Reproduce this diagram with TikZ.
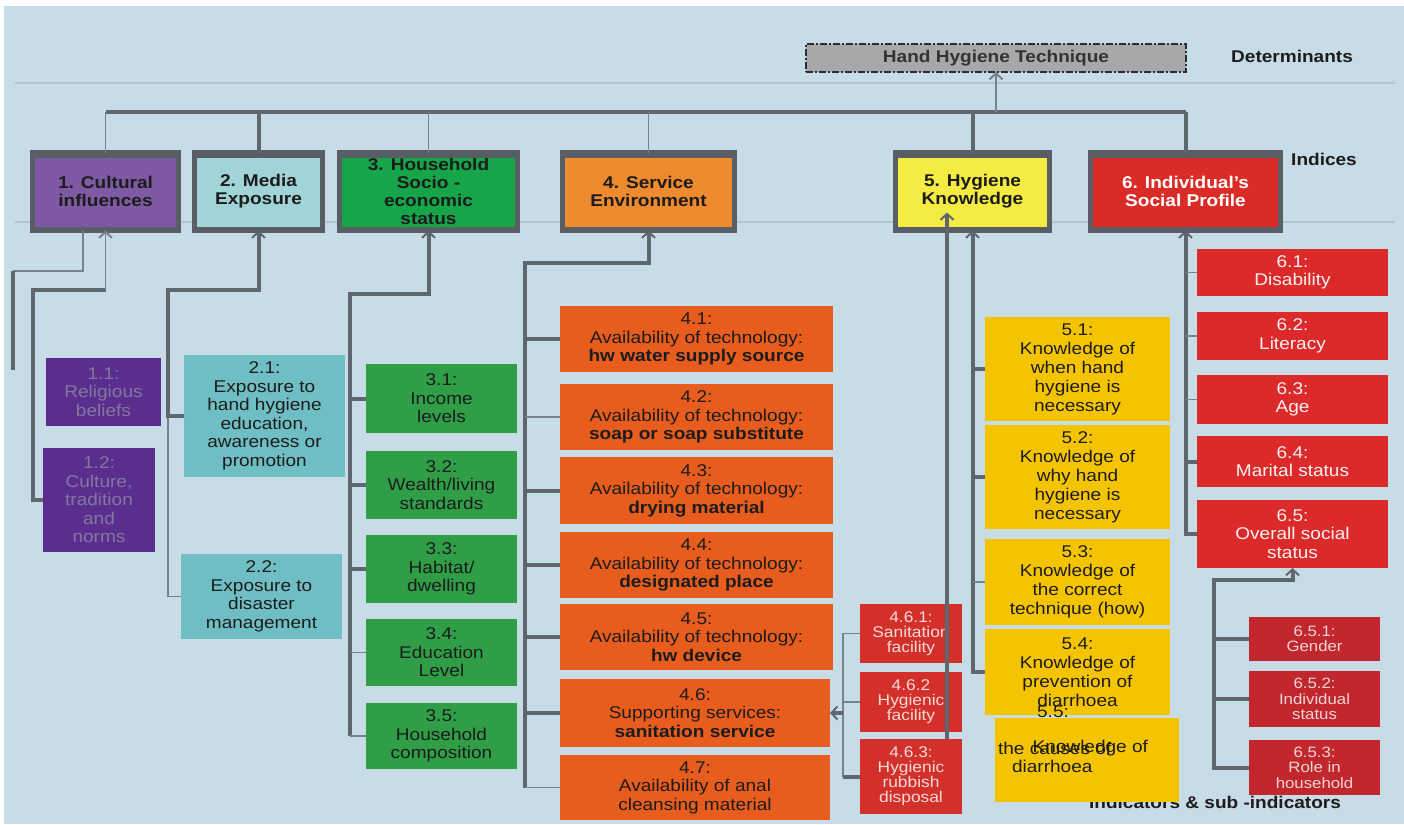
\documentclass[tikz,border=0pt]{standalone}
\usepackage{fontspec}
\setmainfont{Liberation Sans}[FakeStretch=1.12]
\usetikzlibrary{arrows.meta}
\definecolor{bgc}{HTML}{C8DCE7}
\definecolor{faintc}{HTML}{B2C4CF}
\definecolor{connc}{HTML}{5E676E}
\definecolor{connl}{HTML}{77838C}
\definecolor{bordc}{HTML}{585E63}
\definecolor{txtd}{HTML}{1C1C1C}
\definecolor{hhtc}{HTML}{A8A8AB}
\definecolor{hhtb}{HTML}{2A2E33}
\definecolor{cA}{HTML}{7E59A4}
\definecolor{cB}{HTML}{A0D4D6}
\definecolor{cC}{HTML}{17A54A}
\definecolor{cD}{HTML}{EF8A2E}
\definecolor{cE}{HTML}{F4EC42}
\definecolor{cF}{HTML}{DB2B26}
\definecolor{sA}{HTML}{5A2E8E}
\definecolor{sAt}{HTML}{84779F}
\definecolor{sB}{HTML}{6EBEC3}
\definecolor{sC}{HTML}{2F9E47}
\definecolor{sD}{HTML}{E85D1E}
\definecolor{sDD}{HTML}{D3302B}
\definecolor{sDDt}{HTML}{F5DAD5}
\definecolor{sE}{HTML}{F5C400}
\definecolor{sF}{HTML}{DC2A2A}
\definecolor{sFF}{HTML}{C1272D}
\definecolor{sFt}{HTML}{FBF1F1}
\definecolor{sFFt}{HTML}{EED6D6}
\newcommand\mybox[7]{\node[#6, minimum width={(#3)-(#2)}, minimum height={(#5)-(#4)}] (#1) at ({((#2)+(#3))/2},{((#4)+(#5))/2}) {#7};}
\begin{document}
\begin{tikzpicture}[x=1pt,y=-1pt,
  conn/.style={draw=connc, line width=4pt},
  connthin/.style={draw=connl, line width=1.2pt},
  arrT/.style={-{Straight Barb[length=6pt,width=13pt,line width=2pt]}},
  faint/.style={draw=faintc, line width=1.3pt},
  idx/.style={draw=bordc, line width=5pt, inner sep=0pt, outer sep=0pt, align=center, text=txtd, font=\bfseries\fontsize{17}{18}\selectfont},
  sub/.style={inner sep=0pt, outer sep=0pt, align=center, text=txtd, font=\fontsize{17}{18.5}\selectfont},
  subsm/.style={inner sep=0pt, outer sep=0pt, align=center, font=\fontsize{15.5}{15}\selectfont},
  subxs/.style={inner sep=0pt, outer sep=0pt, align=center, font=\fontsize{15}{15.5}\selectfont},
  lab/.style={inner sep=0pt, text=txtd, font=\bfseries\fontsize{17}{18}\selectfont},
  hht/.style={fill=hhtc, draw=hhtb, line width=2.5pt, dash pattern=on 7pt off 2pt on 2pt off 2pt, inner sep=0pt, outer sep=0pt, text=txtd!90, font=\bfseries\fontsize{17}{18}\selectfont}]
\useasboundingbox (0,0) rectangle (1404,824);
\fill[white] (0,0) rectangle (1404,824);
\fill[bgc] (4,6) rectangle (1404,824);
\coordinate (fa1) at (15,83); \coordinate (fa2) at (1395,83);
\coordinate (fb1) at (15,222); \coordinate (fb2) at (1395,222);
\draw[faint] (fa1) -- (fa2);
\draw[faint] (fb1) -- (fb2);
% top
\mybox{hht}{806}{1186}{44}{72}{hht}{Hand Hygiene Technique}
\node[lab] (det) at (1292,56) {Determinants};
\node[lab] (ind) at (1324,159) {Indices};
% index boxes
\mybox{b1}{32.5}{178.5}{152.5}{230.5}{idx,fill=cA}{1. Cultural\\influences}
\mybox{b2}{194.5}{322.5}{152.5}{230.5}{idx,fill=cB}{2. Media\\Exposure}
\mybox{b3}{339.5}{517.5}{152.5}{230.5}{idx,fill=cC}{3. Household\\Socio -\\economic\\status}
\mybox{b4}{562.5}{734.5}{152.5}{230.5}{idx,fill=cD}{4. Service\\Environment}
\mybox{b5}{895.5}{1049.5}{152.5}{230.5}{idx,fill=cE}{5. Hygiene\\Knowledge}
\mybox{b6}{1090.5}{1280.5}{152.5}{230.5}{idx,fill=cF,text=white}{6. Individual's\\Social Profile}
\foreach \n in {b1,b2,b3,b4,b5,b6}{
  \draw[bordc, line width=4pt] ([yshift=-3pt]\n.north west) -- ([yshift=-3pt]\n.north east);
  \draw[bordc, line width=3pt] ([yshift=2.5pt]\n.south west) -- ([yshift=2.5pt]\n.south east);
}
% sub boxes
\mybox{s11}{46}{161}{358}{426}{sub,fill=sA,text=sAt}{1.1:\\Religious\\beliefs}
\mybox{s12}{43}{155}{448}{552}{sub,fill=sA,text=sAt}{1.2:\\Culture,\\tradition\\and\\norms}
\mybox{s21}{184}{345}{355}{477}{sub,fill=sB}{2.1:\\Exposure to\\hand hygiene\\education,\\awareness or\\promotion}
\mybox{s22}{181}{342}{554}{639}{sub,fill=sB}{2.2:\\Exposure to\\disaster\\management}
\mybox{s31}{366}{517}{364}{433}{sub,fill=sC}{3.1:\\Income\\levels}
\mybox{s32}{366}{517}{451}{519}{sub,fill=sC}{3.2:\\Wealth/living\\standards}
\mybox{s33}{366}{517}{535}{603}{sub,fill=sC}{3.3:\\Habitat/\\dwelling}
\mybox{s34}{366}{517}{619}{686}{sub,fill=sC}{3.4:\\Education\\Level}
\mybox{s35}{366}{517}{703}{769}{sub,fill=sC}{3.5:\\Household\\composition}
\mybox{s41}{560}{833}{306}{372}{sub,fill=sD}{4.1:\\Availability of technology:\\\textbf{hw water supply source}}
\mybox{s42}{560}{833}{384}{450}{sub,fill=sD}{4.2:\\Availability of technology:\\\textbf{soap or soap substitute}}
\mybox{s43}{560}{833}{457}{524}{sub,fill=sD}{4.3:\\Availability of technology:\\\textbf{drying material}}
\mybox{s44}{560}{833}{532}{598}{sub,fill=sD}{4.4:\\Availability of technology:\\\textbf{designated place}}
\mybox{s45}{560}{833}{604}{670}{sub,fill=sD}{4.5:\\Availability of technology:\\\textbf{hw device}}
\mybox{s46}{560}{830}{679}{747}{sub,fill=sD}{4.6:\\Supporting services:\\\textbf{sanitation service}}
\mybox{s47}{560}{830}{755}{820}{sub,fill=sD}{4.7:\\Availability of anal\\cleansing material}
\mybox{s461}{860}{962}{604}{663}{subsm,fill=sDD,text=sDDt}{4.6.1:\\Sanitation\\facility}
\mybox{s462}{860}{962}{672}{732}{subsm,fill=sDD,text=sDDt}{4.6.2\\Hygienic\\facility}
\mybox{s463}{860}{962}{739}{814}{subsm,fill=sDD,text=sDDt}{4.6.3:\\Hygienic\\rubbish\\disposal}
\mybox{s51}{985}{1170}{317}{421}{sub,fill=sE,font=\fontsize{17}{19}\selectfont}{5.1:\\Knowledge of\\when hand\\hygiene is\\necessary}
\mybox{s52}{985}{1170}{425}{529}{sub,fill=sE,font=\fontsize{17}{19}\selectfont}{5.2:\\Knowledge of\\why hand\\hygiene is\\necessary}
\mybox{s53}{985}{1170}{539}{625}{sub,fill=sE,font=\fontsize{17}{19}\selectfont}{5.3:\\Knowledge of\\the correct\\technique (how)}
\mybox{s54}{985}{1170}{629}{715}{sub,fill=sE,font=\fontsize{17}{19}\selectfont}{5.4:\\Knowledge of\\prevention of\\diarrhoea}
\mybox{s61}{1197}{1388}{249}{296}{sub,fill=sF,text=sFt}{6.1:\\Disability}
\mybox{s62}{1197}{1388}{312}{360}{sub,fill=sF,text=sFt}{6.2:\\Literacy}
\mybox{s63}{1197}{1388}{375}{424}{sub,fill=sF,text=sFt}{6.3:\\Age}
\mybox{s64}{1197}{1388}{436}{487}{sub,fill=sF,text=sFt}{6.4:\\Marital status}
\mybox{s65}{1197}{1388}{500}{568}{sub,fill=sF,text=sFt}{6.5:\\Overall social\\status}
\mybox{s651}{1249}{1380}{617}{661}{subxs,fill=sFF,text=sFFt}{6.5.1:\\Gender}
\mybox{s652}{1249}{1380}{671}{727}{subxs,fill=sFF,text=sFFt}{6.5.2:\\Individual\\status}
\mybox{s653}{1249}{1380}{740}{795}{subxs,fill=sFF,text=sFFt}{6.5.3:\\Role in\\household}
\node[lab] (isi) at (1215,802) {Indicators \& sub -indicators};
\mybox{s55}{995}{1179}{718}{802}{sub,fill=sE}{}
\node[sub, anchor=west] (t55a) at (998,748) {the causes of};
\node[sub, anchor=east] (t55b) at (1148,748) {Knowledge of};
\node[sub, anchor=west] (t55c) at (1012,766) {diarrhoea};
\node[sub] (t55) at (1053,712) {5.5:};
% bus
\coordinate (bus) at (0,112);
\draw[conn] (b1.north |- bus) -- (b6.north |- bus);
\draw[connthin] (b1.north |- bus) -- (b1.north);
\draw[conn] (b2.north |- bus) -- (b2.north);
\draw[connthin] (b3.north |- bus) -- (b3.north);
\draw[connthin] (b4.north |- bus) -- (b4.north);
\draw[conn] (b5.north |- bus) -- (b5.north);
\draw[conn] (b6.north |- bus) -- (b6.north);
\draw[connthin, arrT] (hht.south |- bus) -- (hht.south);
% group 1
\coordinate (dtop) at (13,271);
\coordinate (dbot) at (13,370);
\draw[connthin] ([xshift=-22.5pt]b1.south) |- (dtop);
\draw[conn] (dtop) -- (dbot);
\coordinate (k1a) at (33,290);
\coordinate (k1) at (b1.south |- k1a);
\draw[conn] (s12.west) -| (k1a) -- (k1);
\draw[connthin, arrT] (k1) -- (b1.south);
% group 2
\coordinate (k2a) at (168,290);
\draw[connthin] (s22.west) -| (k2a |- s21.west);
\draw[conn, arrT] (s21.west) -| (k2a) -| (b2.south);
% group 3
\coordinate (k3) at (350,294);
\draw[conn, arrT] (k3 |- s35.west) -- (k3) -| (b3.south);
\foreach \s in {s31,s32,s33} \draw[conn] (\s.west) -- (\s.west -| k3);
\foreach \s in {s34,s35} \draw[connthin] (\s.west) -- (\s.west -| k3);
% group 4
\coordinate (k4) at (525,263);
\draw[conn, arrT] (k4 |- s47.west) -- (k4) -| (b4.south);
\foreach \s in {s41,s43,s44,s45,s46} \draw[conn] (\s.west) -- (\s.west -| k4);
\foreach \s in {s42,s47} \draw[connthin] (\s.west) -- (\s.west -| k4);
% group 4.6
\coordinate (k46) at (843,0);
\draw[connthin] (s461.west) -| (k46 |- s463.west);
\draw[connthin] (s462.west) -- (s462.west -| k46);
\draw[conn] (s463.west) -- (s463.west -| k46);
\draw[conn, arrT] (s46.east -| k46) -- (s46.east);
% group 5
\draw[conn, arrT] (s54.west) -| (b5.south);
\foreach \s in {s51,s52} \draw[conn] (\s.west) -- (\s.west -| b5.south);
\draw[connthin] (s53.west) -- (s53.west -| b5.south);
\coordinate (k47) at ([xshift=-25.5pt, yshift=18pt]b5.south);
\draw[conn, arrT] (s463.north -| k47) -- (k47);
% group 6
\draw[conn, arrT] (s65.west) -| (b6.south);
\foreach \s in {s61,s62,s63} \draw[connthin] (\s.west) -- (\s.west -| b6.south);
\draw[conn] (s64.west) -- (s64.west -| b6.south);
% group 6.5
\coordinate (k65) at (1214,580);
\draw[conn, arrT] (s653.west) -| (k65) -| (s65.south);
\foreach \s in {s651,s652} \draw[conn] (\s.west) -- (\s.west -| k65);
\end{tikzpicture}
\end{document}
